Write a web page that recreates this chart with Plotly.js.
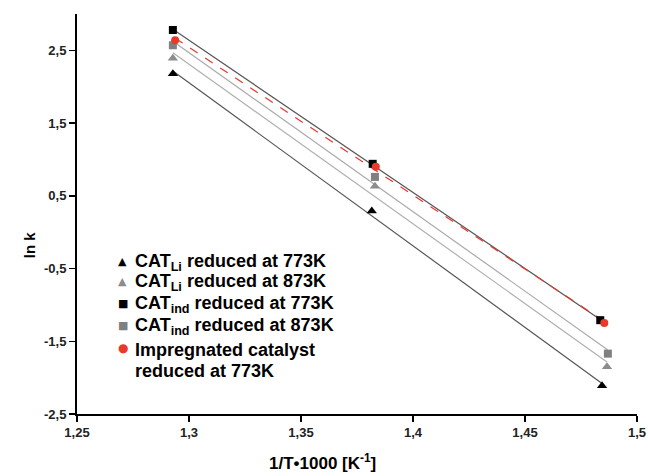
<!DOCTYPE html>
<html>
<head>
<meta charset="utf-8">
<script src="https://cdn.plot.ly/plotly-3.0.1.min.js"></script>
<style>body{margin:0;padding:0;background:#fff}#chart{width:648px;height:476px}</style>
</head>
<body>
<div id="chart"></div>
<script>
// Data (x = 1/T*1000 [1/K], y = ln k)
const seriesNames = [
  "CAT<sub>Li</sub> reduced at 773K",
  "CAT<sub>Li</sub> reduced at 873K",
  "CAT<sub>ind</sub> reduced at 773K",
  "CAT<sub>ind</sub> reduced at 873K",
  "Impregnated catalyst<br>reduced at 773K"
];
const xLi773  = [1.2928, 1.3816, 1.4844];
const yLi773  = [2.18, 0.29, -2.11];
const xLi873  = [1.2928, 1.3830, 1.4866];
const yLi873  = [2.39, 0.63, -1.85];
const xInd773 = [1.2928, 1.3820, 1.4836];
const yInd773 = [2.78, 0.94, -1.21];
const xInd873 = [1.2928, 1.3830, 1.4870];
const yInd873 = [2.57, 0.76, -1.67];
const xImp773 = [1.2938, 1.3834, 1.4854];
const yImp773 = [2.64, 0.90, -1.25];

const xTicks = [1.25, 1.3, 1.35, 1.4, 1.45, 1.5];
const yTicks = [-2.5, -1.5, -0.5, 0.5, 1.5, 2.5];
const xTitle = '1/T•1000 [K<sup>-1</sup>]';
const yTitle = 'ln k';

const styles = [
  {sym: 'triangle-up', glyph: '▲', color: '#000000', line: '#555555', dash: 'solid', size: 9},
  {sym: 'triangle-up', glyph: '▲', color: '#8c8c8c', line: '#b0b0b0', dash: 'solid', size: 9},
  {sym: 'square',      glyph: '■', color: '#000000', line: '#555555', dash: 'solid', size: 8},
  {sym: 'square',      glyph: '■', color: '#808080', line: '#aaaaaa', dash: 'solid', size: 8},
  {sym: 'circle',      glyph: '●', color: '#e8392a', line: '#e8392a', dash: 'dash',  size: 8}
];
const xs = [xLi773, xLi873, xInd773, xInd873, xImp773];
const ys = [yLi773, yLi873, yInd773, yInd873, yImp773];

function fit(x, y) {
  const n = x.length;
  let sx = 0, sy = 0, sxx = 0, sxy = 0;
  for (let i = 0; i < n; i++) { sx += x[i]; sy += y[i]; sxx += x[i]*x[i]; sxy += x[i]*y[i]; }
  const b = (n*sxy - sx*sy) / (n*sxx - sx*sx);
  const a = (sy - b*sx) / n;
  const x0 = Math.min(...x), x1 = Math.max(...x);
  return {x: [x0, x1], y: [a + b*x0, a + b*x1]};
}

const traces = [];
for (let i = 0; i < 5; i++) {
  const f = fit(xs[i], ys[i]);
  traces.push({x: f.x, y: f.y, mode: 'lines', showlegend: false, hoverinfo: 'skip',
    line: {color: styles[i].line, width: 1.2, dash: styles[i].dash}});
}
for (let i = 0; i < 5; i++) {
  traces.push({x: xs[i], y: ys[i], mode: 'markers', name: seriesNames[i], showlegend: false,
    marker: {symbol: styles[i].sym, color: styles[i].color, size: styles[i].size}});
}

const fam = 'Liberation Sans, Arial, sans-serif';
// Custom legend (paper coordinates)
const legRowsY = [0.378, 0.328, 0.273, 0.218, 0.161];
const annotations = [];
for (let i = 0; i < 5; i++) {
  const lines = seriesNames[i].split('<br>');
  lines.forEach((t, k) => {
    annotations.push({xref: 'paper', yref: 'paper', x: 0.1, y: legRowsY[i] - k*0.054,
      xanchor: 'left', yanchor: 'middle', showarrow: false, text: t,
      font: {family: fam, size: 18, color: '#000', weight: 700}});
  });
  annotations.push({xref: 'paper', yref: 'paper', x: 0.082, y: legRowsY[i] + 0.003,
    xanchor: 'center', yanchor: 'middle', showarrow: false, text: styles[i].glyph,
    font: {family: 'DejaVu Sans', size: i === 4 ? 12 : 11, color: styles[i].color}});
}
annotations.push({xref: 'paper', yref: 'paper', x: 0.439, y: -0.1525, xanchor: 'center', yanchor: 'bottom',
  showarrow: false, text: xTitle, font: {family: fam, size: 17, color: '#000', weight: 700}});
annotations.push({xref: 'paper', yref: 'paper', x: -0.085, y: 0.423, xanchor: 'center', yanchor: 'middle',
  showarrow: false, textangle: -90, text: yTitle, font: {family: fam, size: 15, color: '#000', weight: 700}});

const layout = {
  width: 648, height: 476,
  margin: {l: 77, r: 11, t: 14, b: 62},
  paper_bgcolor: '#fff', plot_bgcolor: '#fff',
  font: {family: fam, color: '#000', weight: 700},
  showlegend: false,
  annotations: annotations,
  xaxis: {
    range: [1.25, 1.5], tickvals: xTicks, ticktext: xTicks.map(v => String(v).replace('.', ',')),
    showgrid: false, zeroline: false, showline: true, linecolor: '#000', linewidth: 1.5,
    ticks: 'outside', ticklen: 6, tickcolor: '#000', tickwidth: 1.5,
    tickfont: {family: fam, size: 13, color: '#222', weight: 700}
  },
  yaxis: {
    range: [-2.5, 3], tickvals: yTicks, ticktext: yTicks.map(v => String(v).replace('.', ',')),
    showgrid: false, zeroline: false, showline: true, linecolor: '#000', linewidth: 2,
    ticks: 'outside', ticklen: 6, tickcolor: '#000', tickwidth: 1.5,
    tickfont: {family: fam, size: 13, color: '#222', weight: 700}
  }
};
Plotly.newPlot('chart', traces, layout, {displayModeBar: false, staticPlot: true});
</script>
</body>
</html>
